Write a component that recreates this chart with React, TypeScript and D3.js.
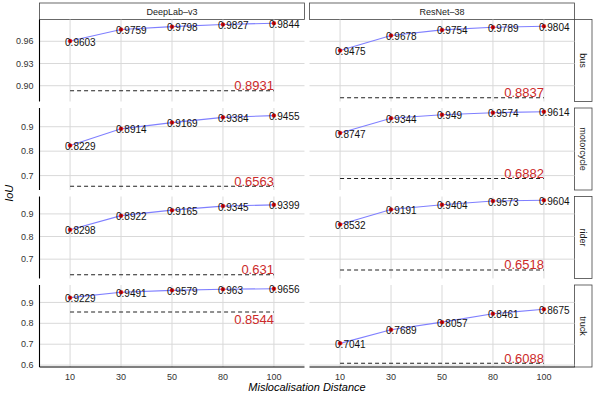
import React from 'react';
import * as d3 from 'd3';

// chart data
const distances = ['10', '30', '50', '80', '100'];
const models = ['DeepLab–v3', 'ResNet–38'];
const classes = ['bus', 'motorcycle', 'rider', 'truck'];

// IoU per class, per model (rows: class, cols: model)
const deeplabIoU = [
  [0.9603, 0.9759, 0.9798, 0.9827, 0.9844],
  [0.8229, 0.8914, 0.9169, 0.9384, 0.9455],
  [0.8298, 0.8922, 0.9165, 0.9345, 0.9399],
  [0.9229, 0.9491, 0.9579, 0.963, 0.9656],
];
const resnetIoU = [
  [0.9475, 0.9678, 0.9754, 0.9789, 0.9804],
  [0.8747, 0.9344, 0.949, 0.9574, 0.9614],
  [0.8532, 0.9191, 0.9404, 0.9573, 0.9604],
  [0.7041, 0.7689, 0.8057, 0.8461, 0.8675],
];
// baseline IoU (dashed line)
const deeplabBase = [0.8931, 0.6563, 0.631, 0.8544];
const resnetBase = [0.8837, 0.6882, 0.6518, 0.6088];

// y ticks per row
const rowTicks = [
  [0.9, 0.93, 0.96],
  [0.7, 0.8, 0.9],
  [0.7, 0.8, 0.9],
  [0.6, 0.7, 0.8, 0.9],
];
const rowTickDigits = [2, 1, 1, 1];

const W = 598;
const H = 397;
const colX = [39.5, 309.5];
const colW = 265;
const rowTop = 19.5;
const rowH = 82;
const rowGap = 6.5;
const font = 'Liberation Sans, Arial, Helvetica, sans-serif';

const App = () => {
  const x0 = d3.scalePoint<string>().domain(distances).range([0, colW]).padding(0.6);

  const series = [deeplabIoU, resnetIoU];
  const bases = [deeplabBase, resnetBase];

  const line = d3.line<number>();

  return (
    <svg width={W} height={H} style={{ position: 'absolute', left: 0, top: 0 }} fontFamily={font}>
      <rect width={W} height={H} fill="#fff" />
      {/* column strips */}
      {models.map((m, c) => (
        <g key={m}>
          <rect x={colX[c]} y={3} width={colW} height={rowTop - 3} fill="#fff" stroke="#444" strokeWidth={0.8} />
          <text x={colX[c] + colW / 2} y={rowTop - 5} textAnchor="middle" fontSize={9} fill="#1a1a1a">{m}</text>
        </g>
      ))}
      {classes.map((cls, r) => {
        const top = rowTop + r * (rowH + rowGap);
        const vals = [...deeplabIoU[r], ...resnetIoU[r], deeplabBase[r], resnetBase[r]];
        const [mn, mx] = d3.extent(vals) as [number, number];
        const pad = (mx - mn) * 0.05;
        const y = d3.scaleLinear().domain([mn - pad, mx + pad]).range([top + rowH, top]);
        const fmt = d3.format(`.${rowTickDigits[r]}f`);
        const mid = (mn + mx) / 2;
        return (
          <g key={cls}>
            {/* row strip */}
            <rect x={colX[1] + colW} y={top} width={17.5} height={rowH} fill="#fff" stroke="#444" strokeWidth={0.8} />
            <text
              transform={`translate(${colX[1] + colW + 8.75},${top + rowH / 2}) rotate(90)`}
              textAnchor="middle"
              dy="0.35em"
              fontSize={9}
              fill="#1a1a1a"
            >{cls}</text>
            {/* y tick labels */}
            {rowTicks[r].map((t) => (
              <text key={t} x={colX[0] - 6} y={y(t)} dy="0.35em" textAnchor="end" fontSize={9} fill="#333">{fmt(t)}</text>
            ))}
            {models.map((m, c) => {
              const left = colX[c];
              const xs = (d: string) => left + (x0(d) as number);
              const data = series[c][r];
              const base = bases[c][r];
              const pts = data.map((v, i) => [xs(distances[i]), y(v)] as [number, number]);
              const inwardBelow = base > mid;
              return (
                <g key={m}>
                  {/* grid */}
                  {rowTicks[r].map((t) => (
                    <line key={t} x1={left} x2={left + colW} y1={y(t)} y2={y(t)} stroke="#d9d9d9" strokeWidth={1} />
                  ))}
                  {distances.map((d) => (
                    <line key={d} x1={xs(d)} x2={xs(d)} y1={top} y2={top + rowH} stroke="#d9d9d9" strokeWidth={1} />
                  ))}
                  {/* baseline */}
                  <line
                    x1={xs(distances[0])}
                    x2={xs(distances[distances.length - 1])}
                    y1={y(base)}
                    y2={y(base)}
                    stroke="#222"
                    strokeWidth={1.1}
                    strokeDasharray="4,3"
                  />
                  {/* series */}
                  <path d={line(pts) || ''} fill="none" stroke="#7f7fff" strokeWidth={1.1} />
                  {pts.map((p, i) => (
                    <circle key={i} cx={p[0]} cy={p[1]} r={2} fill="#ff0000" stroke="#b00000" strokeWidth={0.3} />
                  ))}
                  {data.map((v, i) => (
                    <text key={i} x={pts[i][0] - 5} y={pts[i][1] + 4.6} fontSize={10} fill="#111">{String(v)}</text>
                  ))}
                  <text
                    x={xs(distances[distances.length - 1])}
                    y={y(base)}
                    dy={inwardBelow ? '0.95em' : '-0.05em'}
                    textAnchor="end"
                    fontSize={13}
                    fill="#cc2a2a"
                  >{String(base)}</text>
                  {/* axis lines */}
                  {c === 0 && (
                    <line x1={left} x2={left} y1={top} y2={top + rowH} stroke="#000" strokeWidth={1.1} />
                  )}
                  {r === classes.length - 1 && (
                    <line x1={left} x2={left + colW} y1={top + rowH} y2={top + rowH} stroke="#000" strokeWidth={1.1} />
                  )}
                  {r === classes.length - 1 && distances.map((d) => (
                    <text key={d} x={xs(d)} y={top + rowH + 12.5} textAnchor="middle" fontSize={9} fill="#333">{d}</text>
                  ))}
                </g>
              );
            })}
          </g>
        );
      })}
      {/* axis titles */}
      <text x={(colX[0] + colX[1] + colW) / 2} y={391} textAnchor="middle" fontSize={11} fontStyle="italic" fill="#000">Mislocalisation Distance</text>
      <text transform={`translate(13,${rowTop + (4 * rowH + 3 * rowGap) / 2}) rotate(-90)`} textAnchor="middle" fontSize={11} fontStyle="italic" fill="#000">IoU</text>
    </svg>
  );
};

export default App;
